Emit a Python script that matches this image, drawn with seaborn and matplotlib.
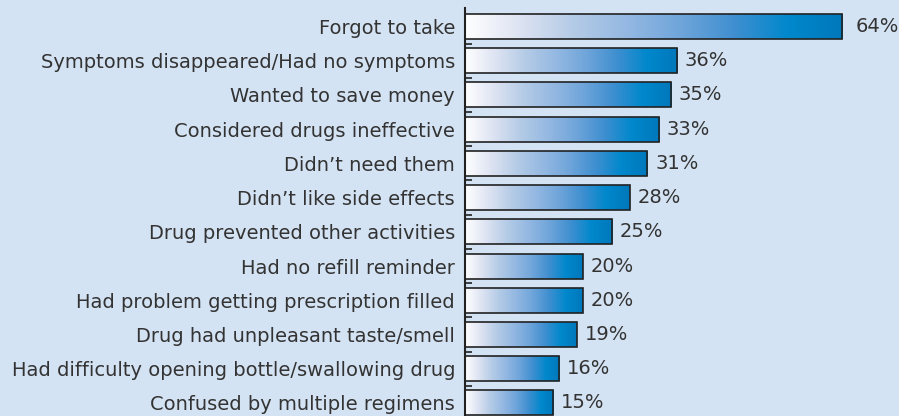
import matplotlib
matplotlib.use('Agg')
import matplotlib.pyplot as plt
from matplotlib.colors import LinearSegmentedColormap
import numpy as np
import pandas as pd
import seaborn as sns

reasons = [
    "Forgot to take",
    "Symptoms disappeared/Had no symptoms",
    "Wanted to save money",
    "Considered drugs ineffective",
    "Didn\u2019t need them",
    "Didn\u2019t like side effects",
    "Drug prevented other activities",
    "Had no refill reminder",
    "Had problem getting prescription filled",
    "Drug had unpleasant taste/smell",
    "Had difficulty opening bottle/swallowing drug",
    "Confused by multiple regimens",
]
percent = [64, 36, 35, 33, 31, 28, 25, 20, 20, 19, 16, 15]

df = pd.DataFrame({"reason": reasons, "percent": percent})

bg = "#d4e3f3"
text_color = "#333333"

sns.set_theme(style="white")
plt.rcParams['font.family'] = ['DejaVu Sans']

fig = plt.figure(figsize=(8.99, 4.16), dpi=100)
fig.patch.set_facecolor(bg)
ax = fig.add_axes([0.517, 0.0, 0.483, 0.981])
ax.set_facecolor(bg)

sns.barplot(data=df, x="percent", y="reason", ax=ax, orient="h",
            width=0.73, color="white", edgecolor="#222222", linewidth=1.2)

# white -> blue gradient inside every bar
grad = LinearSegmentedColormap.from_list(
    "bar_grad",
    ["#ffffff", "#dde3f2", "#b4cbe6", "#94b8e2", "#6fa5da", "#3f8fd0", "#0088cc", "#0077bb"])
gradient = np.linspace(0, 1, 256).reshape(1, -1)

for patch in ax.patches:
    x0, y0 = patch.get_x(), patch.get_y()
    w, h = patch.get_width(), patch.get_height()
    patch.set_facecolor("none")
    im = ax.imshow(gradient, cmap=grad, aspect="auto",
                   extent=(x0, x0 + w, y0 + h, y0), zorder=1.5,
                   interpolation="bicubic")
    im.set_clip_path(patch)
    patch.set_zorder(2)

for i, v in enumerate(percent):
    off = 2.4 if v == max(percent) else 1.3
    ax.text(v + off, i, f"{v}%", va="center", ha="left",
            fontsize=14, color=text_color)

ax.set_xlim(0, 73.7)
ax.set_ylim(11.38, -0.54)
ax.set_xlabel("")
ax.set_ylabel("")
ax.set_xticks([])
ax.set_yticks(np.arange(0.5, 11.5, 1), minor=True)
ax.tick_params(axis="y", which="major", length=0, pad=7,
               labelsize=14, labelcolor=text_color)
ax.tick_params(axis="y", which="minor", direction="in", length=5,
               width=1.2, color="#222222", left=True)
for side in ["top", "right", "bottom"]:
    ax.spines[side].set_visible(False)
ax.spines["left"].set_color("#222222")
ax.spines["left"].set_linewidth(1.5)

fig.savefig("out.png", dpi=100, facecolor=bg)
